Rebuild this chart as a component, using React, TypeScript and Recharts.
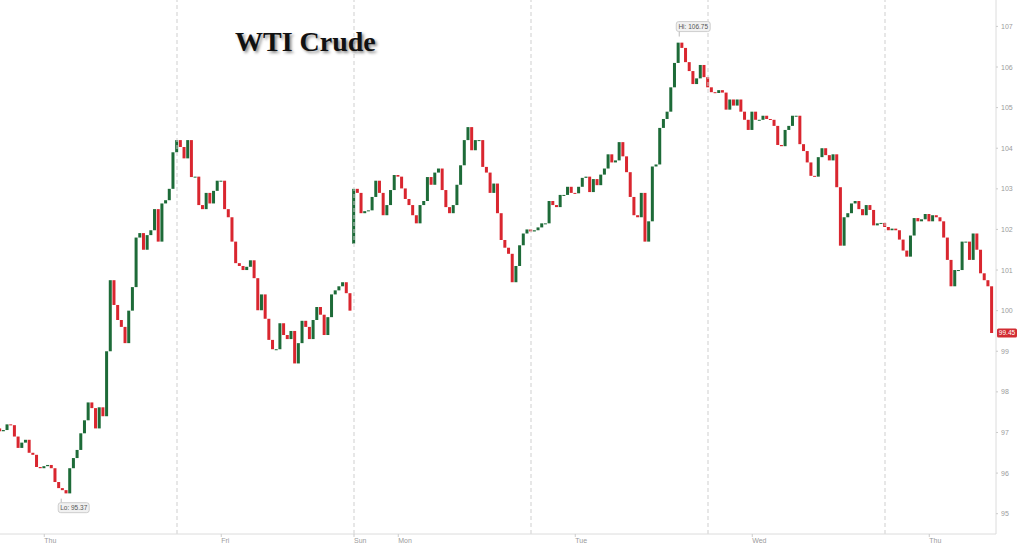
import { ComposedChart, Bar, XAxis, YAxis, ReferenceLine, ReferenceDot } from "recharts";

// closes of 30-minute candles, one array per session (session starts 18:00 ET)
const sessionA = [
	97.03, 97.06, 97.2, 97.18, 96.9, 96.62, 96.75, 96.82, 96.5, 96.45, 96.15, 96.12,
	96.17, 96.2, 96.12, 95.78, 95.63, 95.58, 95.5, 96.12, 96.37, 96.57, 96.98, 97.3,
	97.74, 97.6, 97.1, 97.62, 97.4, 99.0, 100.75, 100.14, 99.77, 99.6, 99.2, 100.0,
	100.58, 101.8, 101.91, 101.5, 101.86, 101.98, 102.5, 101.7, 102.64, 102.72, 103.0, 103.9,
];
const sessionB = [
	104.2, 104.03, 103.75, 104.2, 103.29, 103.3, 102.6, 102.5, 102.9, 102.64, 102.95, 103.2,
	103.2, 102.5, 102.3, 101.7, 101.17, 101.1, 101.0, 101.08, 101.24, 100.8, 100.01, 100.4,
	99.8, 99.28, 99.05, 99.05, 99.69, 99.4, 99.3, 99.5, 98.7, 99.2, 99.75, 99.6,
	99.3, 99.77, 100.09, 99.9, 99.4, 99.84, 100.4, 100.5, 100.6, 100.7, 100.43, 100.0,
];
const sessionC = [
	103.0, 102.9, 102.4, 102.45, 102.47, 102.8, 103.2, 102.9, 102.35, 102.6, 102.97, 103.34,
	103.3, 103.01, 102.75, 102.6, 102.35, 102.15, 102.6, 102.7, 103.29, 103.1, 103.4, 103.5,
	102.97, 102.55, 102.4, 102.6, 103.1, 103.58, 104.2, 104.52, 103.95, 104.2, 104.2, 103.54,
	103.4, 102.9, 103.13, 102.4, 101.74, 101.55, 101.4, 100.7, 101.1, 101.61, 101.9, 102.0,
];
const sessionD = [
	101.95, 101.98, 102.05, 102.15, 102.15, 102.7, 102.6, 102.55, 102.85, 102.85, 103.05, 102.9,
	102.89, 103.05, 103.27, 103.3, 102.92, 103.24, 103.09, 103.35, 103.5, 103.85, 103.65, 103.7,
	104.15, 103.8, 103.41, 102.8, 102.35, 102.3, 102.9, 101.7, 102.2, 103.55, 103.6, 104.5,
	104.72, 104.9, 105.5, 106.1, 106.6, 106.47, 106.12, 105.9, 105.58, 105.72, 106.05, 105.75,
];
const sessionE = [
	105.5, 105.38, 105.36, 105.43, 105.37, 104.95, 105.2, 105.05, 105.2, 104.9, 104.7, 104.45,
	104.9, 104.7, 104.7, 104.8, 104.72, 104.7, 104.55, 104.08, 104.05, 104.45, 104.55, 104.8,
	104.8, 104.1, 103.93, 103.65, 103.32, 103.3, 103.78, 104.0, 103.83, 103.7, 103.85, 103.04,
	101.6, 102.3, 102.4, 102.64, 102.7, 102.5, 102.35, 102.6, 102.48, 102.1, 102.15, 102.16,
];
const sessionF = [
	102.06, 101.98, 102.02, 101.98, 101.75, 101.48, 101.33, 101.85, 102.28, 102.2, 102.25, 102.38,
	102.2, 102.35, 102.3, 102.2, 101.8, 101.25, 100.6, 101.0, 101.0, 101.7, 101.7, 101.25,
	101.9, 101.5, 100.92, 100.75, 100.6, 99.45,
];

const sessions = [sessionA, sessionB, sessionC, sessionD, sessionE, sessionF];
const sessionStarts = [0, 24, 48, 72, 96, 120]; // hours since Wed 18:00
const sessionOpens = [97.1, null, 101.65, null, null, null]; // null = previous close
const barStep = 0.5;

const dayTicks = [6, 30, 48, 54, 78, 102, 126];
const dayLabels = ["Thu", "Fri", "Sun", "Mon", "Tue", "Wed", "Thu"];
const priceTicks = [95, 96, 97, 98, 99, 100, 101, 102, 103, 104, 105, 106, 107];
const sessionBreaks = [24, 48, 72, 96, 120];

const hiPoint = { t: 92.1, price: 106.75 };
const loPoint = { t: 8.3, price: 95.37 };
const lastPrice = 99.45;

const UP = "#1d6b38";
const DOWN = "#d9262f";
const AXIS_TEXT = "#9b9b9b";

const candles = [];
let prev = null;
sessions.forEach((closes, s) => {
	closes.forEach((close, j) => {
		const open = j === 0 && sessionOpens[s] != null ? sessionOpens[s] : prev ?? close;
		candles.push({
			t: sessionStarts[s] + j * barStep,
			open,
			close,
			range: [Math.min(open, close), Math.max(open, close)],
		});
		prev = close;
	});
});

const Candle = (props) => {
	const { x, y, width, height, payload } = props;
	const top = Math.min(y, y + height);
	const h = Math.max(Math.abs(height), 1);
	const up = payload.close >= payload.open;
	return <rect x={x} y={top} width={width} height={h} fill={up ? UP : DOWN} />;
};

const DayTick = ({ x, y, payload }) => {
	const i = dayTicks.indexOf(payload.value);
	return (
		<g>
			<line x1={x} x2={x} y1={y} y2={y + 3} stroke="#ccc" />
			<text x={x} y={y + 8.5} fontSize={7} fill={AXIS_TEXT} textAnchor="start" fontFamily="Liberation Sans, sans-serif">
				{dayLabels[i]}
			</text>
		</g>
	);
};

const PriceTick = ({ x, y, payload }) => (
	<text x={x + 1} y={y + 2.5} fontSize={7} fill={AXIS_TEXT} textAnchor="start" fontFamily="Liberation Sans, sans-serif">
		{payload.value}
	</text>
);

const Tag = ({ viewBox, text, dx, dy, w }) => {
	const cx = viewBox.cx ?? viewBox.x + (viewBox.width || 0) / 2;
	const cy = viewBox.cy ?? viewBox.y + (viewBox.height || 0) / 2;
	const bx = cx + dx;
	const by = cy + dy;
	return (
		<g>
			<line x1={cx} y1={cy} x2={bx + 3} y2={dy < 0 ? by + 10 : by} stroke="#bbb" />
			<rect x={bx} y={by} width={w} height={10} rx={2.5} fill="#f1f1f1" stroke="#c4c4c4" strokeWidth={0.8} />
			<text x={bx + w / 2} y={by + 7.3} fontSize={6.5} fill="#555" textAnchor="middle" fontFamily="Liberation Sans, sans-serif">
				{text}
			</text>
		</g>
	);
};

const LastTag = ({ viewBox }) => {
	const { x, y, width } = viewBox;
	const bx = x + width + 1;
	return (
		<g>
			<rect x={bx} y={y - 4.5} width={20} height={9} rx={1.5} fill="#d22c32" />
			<text x={bx + 10} y={y + 2.4} fontSize={6.5} fill="#fff" textAnchor="middle" fontFamily="Liberation Sans, sans-serif">
				{lastPrice}
			</text>
		</g>
	);
};

export default function App() {
	return (
		<div style={{ position: "absolute", left: 0, top: 0, width: 1024, height: 544, background: "#fff" }}>
			<ComposedChart width={1024} height={544} data={candles} margin={{ top: 0, right: 0, bottom: 0, left: 0 }}>
				<XAxis
					dataKey="t"
					type="number"
					domain={[0, 135.05]}
					ticks={dayTicks}
					tick={<DayTick />}
					tickLine={false}
					tickSize={0}
					tickMargin={0}
					axisLine={{ stroke: "#dcdcdc" }}
					height={10}
					interval={0}
				/>
				<YAxis
					orientation="right"
					domain={[94.5, 107.65]}
					ticks={priceTicks}
					tick={<PriceTick />}
					tickSize={2}
					tickLine={{ stroke: "#ccc" }}
					axisLine={{ stroke: "#dcdcdc" }}
					width={28}
					interval={0}
				/>
				{sessionBreaks.map((t) => (
					<ReferenceLine key={t} x={t} stroke="#cfcfcf" strokeDasharray="4 3" />
				))}
				<Bar dataKey="range" barSize={3} shape={<Candle />} isAnimationActive={false} />
				<ReferenceDot
					x={hiPoint.t}
					y={hiPoint.price}
					r={0}
					label={<Tag text={`Hi: ${hiPoint.price}`} dx={-3} dy={-15} w={34} />}
				/>
				<ReferenceDot
					x={loPoint.t}
					y={loPoint.price}
					r={0}
					label={<Tag text={`Lo: ${loPoint.price}`} dx={-3} dy={4} w={31} />}
				/>
				<ReferenceLine y={lastPrice} stroke="none" label={<LastTag />} />
			</ComposedChart>
			<div
				style={{
					position: "absolute",
					left: 235,
					top: 26,
					fontFamily: "Liberation Serif, serif",
					fontWeight: "bold",
					fontSize: 28,
					color: "#111",
					textShadow: "2px 2px 3px rgba(0,0,0,0.45)",
					lineHeight: "32px",
				}}
			>
				WTI Crude
			</div>
		</div>
	);
}
